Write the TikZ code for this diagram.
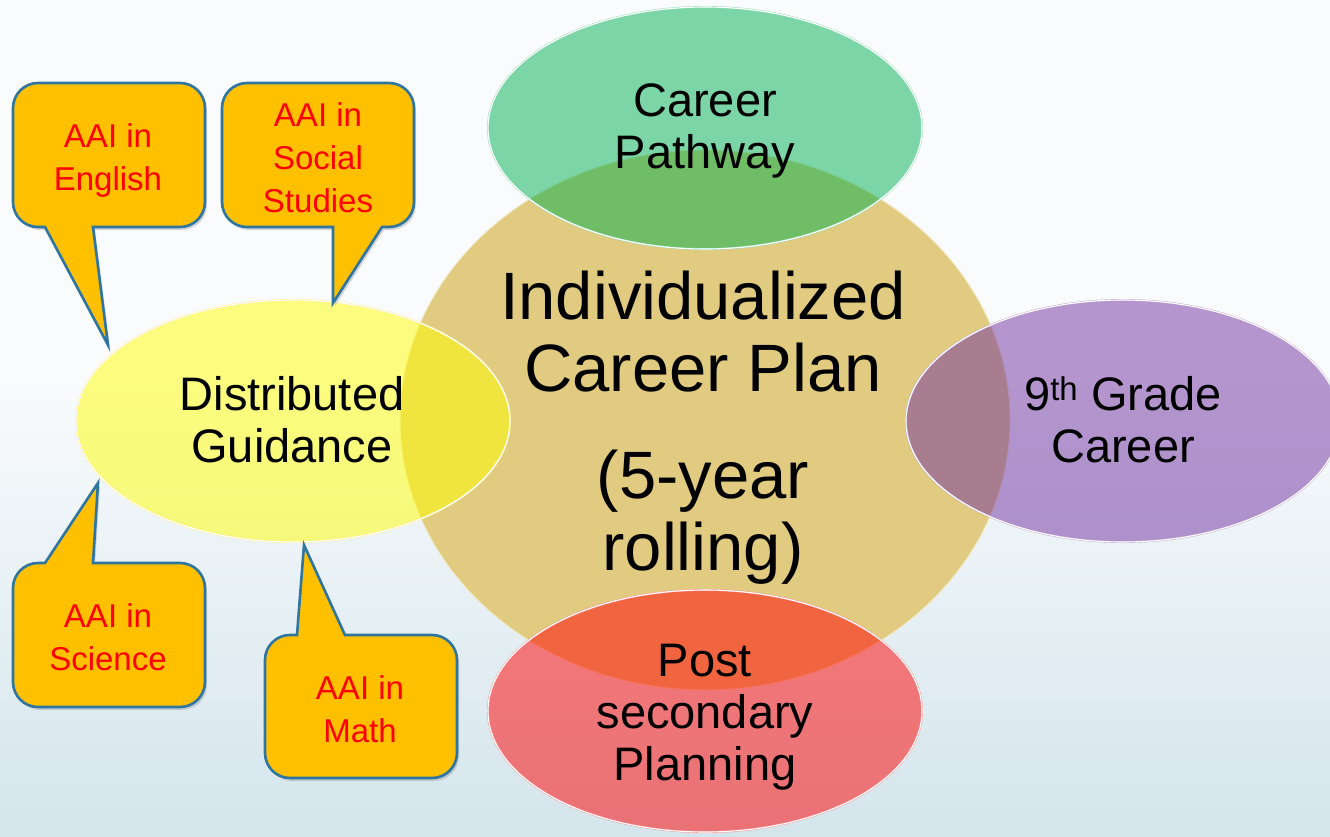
\documentclass[tikz,border=0pt]{standalone}
\usepackage{fontspec}
\setmainfont{Liberation Sans}
\usetikzlibrary{shapes.geometric,shadows}
\definecolor{bgtop}{RGB}{249,251,253}
\definecolor{bgmid}{RGB}{244,248,250}
\definecolor{bgbot}{RGB}{212,229,236}
\definecolor{tanfill}{RGB}{225,203,128}
\definecolor{grn}{RGB}{0,176,80}
\definecolor{purp}{RGB}{112,48,160}
\definecolor{yel}{RGB}{255,255,0}
\definecolor{rd}{RGB}{255,0,0}
\definecolor{gold}{RGB}{255,192,0}
\definecolor{calloutline}{RGB}{46,117,160}
\definecolor{txtred}{RGB}{255,0,0}
\begin{document}
\begin{tikzpicture}[x=1pt,y=-1pt,
  bubble/.style={ellipse, minimum width=434pt, minimum height=242pt, inner sep=0pt,
    fill opacity=0.5, double=white, line width=0.4pt, double distance=1.1pt},
  callout/.style={fill=gold, draw=calloutline, line width=2.6pt, miter limit=6,
    drop shadow={opacity=0.3, shadow xshift=2pt, shadow yshift=-3pt}},
  midtext/.style={align=center, anchor=base, text=black, font=\fontsize{47}{52}\selectfont},
  calltext/.style={align=center, anchor=base, text=txtred, font=\fontsize{33}{43}\selectfont}]
\useasboundingbox (0,0) rectangle (1330,836);
\clip (0,0) rectangle (1330,836);
\fill[bgtop] (0,0) rectangle (1330,836);
\shade[top color=bgtop, middle color=bgmid, bottom color=bgbot] (0,380) rectangle (1330,836);

% central plan
\node[ellipse, minimum width=610pt, minimum height=540pt, inner sep=0pt, fill=tanfill,
  draw=white!55!tanfill, line width=1pt] (plan) at (705,420) {};

% surrounding ellipses
\node[bubble, fill=grn, draw=grn!45] (path) at (705,128) {};
\node[bubble, fill=purp, draw=purp!45] (grade) at (1123,421) {};
\node[bubble, fill=rd, draw=rd!45] (post) at (705,711) {};
\node[bubble, fill=yel, draw=yel!70!orange!50] (guid) at (293,421) {};

% callouts
\draw[callout] (108,345) -- (93,227) -- (180,227) arc[start angle=90,end angle=0,radius=25]
  -- (205,108) arc[start angle=0,end angle=-90,radius=25]
  -- (38,83) arc[start angle=-90,end angle=-180,radius=25]
  -- (13,202) arc[start angle=180,end angle=90,radius=25]
  -- (45,227) -- cycle;
\draw[callout] (333,303) -- (382,227) -- (389,227) arc[start angle=90,end angle=0,radius=25]
  -- (414,108) arc[start angle=0,end angle=-90,radius=25]
  -- (247,83) arc[start angle=-90,end angle=-180,radius=25]
  -- (222,202) arc[start angle=180,end angle=90,radius=25]
  -- (333,227) -- cycle;
\draw[callout] (98,483) -- (93,563) -- (180,563) arc[start angle=-90,end angle=0,radius=25]
  -- (205,682) arc[start angle=0,end angle=90,radius=25]
  -- (38,707) arc[start angle=90,end angle=180,radius=25]
  -- (13,588) arc[start angle=180,end angle=270,radius=25]
  -- (45,563) -- cycle;
\draw[callout] (304,545) -- (345,635) -- (432,635) arc[start angle=-90,end angle=0,radius=25]
  -- (457,753) arc[start angle=0,end angle=90,radius=25]
  -- (290,778) arc[start angle=90,end angle=180,radius=25]
  -- (265,660) arc[start angle=180,end angle=270,radius=25]
  -- (297,635) -- cycle;

% texts (base anchor = baseline of last line)
\node[align=center, anchor=base, font=\fontsize{67}{72}\selectfont] (plantext) at (703,570)
  {Individualized\\Career Plan\\[35pt](5-year\\rolling)};
\node[midtext] (pathtext) at (705,168) {Career\\Pathway};
\node[midtext] (gradetext) at (1123,462) {9\textsuperscript{th} Grade\\Career};
\node[midtext] (posttext) at (705,780) {Post\\secondary\\Planning};
\node[midtext] (guidtext) at (292,462) {Distributed\\Guidance};

\node[calltext] (eng) at (108,190) {AAI in\\English};
\node[calltext] (soc) at (318,212) {AAI in\\Social\\Studies};
\node[calltext] (sci) at (108,670) {AAI in\\Science};
\node[calltext] (math) at (360,742) {AAI in\\Math};
\end{tikzpicture}
\end{document}
